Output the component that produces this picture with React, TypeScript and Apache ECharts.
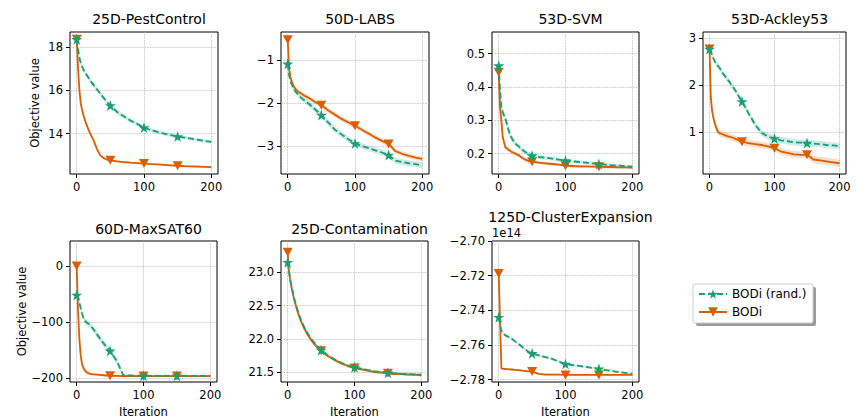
import React, { useEffect, useRef } from 'react';
import * as echarts from 'echarts';

// ---------------- data ----------------
const ITERS = [0, 2, 4, 6, 8, 10, 13, 16, 20, 25, 30, 35, 40, 45, 50, 60, 70, 80, 90, 100, 110, 120, 130, 140, 150, 160, 170, 180, 190, 200];
const MARK_ITERS = [0, 50, 100, 150];
const X_TICKS = [0, 100, 200];
const SERIES_NAMES = ['BODi (rand.)', 'BODi'];
const TITLES = ['25D-PestControl', '50D-LABS', '53D-SVM', '53D-Ackley53', '60D-MaxSAT60', '25D-Contamination', '125D-ClusterExpansion'];

const pestRand = [18.35, 17.9, 17.5, 17.25, 17.1, 16.95, 16.8, 16.65, 16.45, 16.25, 16.05, 15.85, 15.65, 15.45, 15.3, 15.0, 14.8, 14.6, 14.45, 14.28, 14.17, 14.08, 14.0, 13.93, 13.87, 13.82, 13.77, 13.72, 13.67, 13.62];
const pestRandErr = [0.05, 0.1, 0.12, 0.12, 0.12, 0.12, 0.12, 0.12, 0.12, 0.12, 0.12, 0.12, 0.12, 0.12, 0.12, 0.11, 0.1, 0.1, 0.1, 0.1, 0.09, 0.09, 0.09, 0.09, 0.08, 0.08, 0.08, 0.08, 0.08, 0.08];
const pestBodi = [18.35, 17.0, 16.0, 15.4, 15.1, 14.85, 14.55, 14.3, 14.0, 13.7, 13.3, 13.0, 12.88, 12.8, 12.77, 12.72, 12.69, 12.66, 12.64, 12.62, 12.6, 12.58, 12.56, 12.54, 12.52, 12.5, 12.49, 12.48, 12.47, 12.46];
const pestBodiErr = [0.05, 0.15, 0.15, 0.12, 0.1, 0.1, 0.1, 0.08, 0.08, 0.07, 0.06, 0.05, 0.05, 0.05, 0.05, 0.05, 0.05, 0.05, 0.05, 0.05, 0.05, 0.05, 0.05, 0.05, 0.05, 0.05, 0.05, 0.05, 0.05, 0.05];

const labsRand = [-1.09, -1.35, -1.5, -1.57, -1.63, -1.7, -1.76, -1.82, -1.88, -1.94, -2.0, -2.07, -2.14, -2.21, -2.28, -2.45, -2.62, -2.73, -2.84, -2.94, -3.0, -3.05, -3.1, -3.15, -3.21, -3.34, -3.37, -3.4, -3.42, -3.45];
const labsRandErr = [0.05, 0.06, 0.06, 0.06, 0.06, 0.06, 0.06, 0.06, 0.06, 0.06, 0.07, 0.07, 0.07, 0.07, 0.07, 0.07, 0.07, 0.07, 0.07, 0.07, 0.07, 0.07, 0.07, 0.07, 0.07, 0.07, 0.07, 0.07, 0.07, 0.07];
const labsBodi = [-0.53, -1.2, -1.4, -1.5, -1.58, -1.64, -1.7, -1.74, -1.78, -1.83, -1.87, -1.92, -1.97, -2.01, -2.05, -2.17, -2.27, -2.37, -2.45, -2.53, -2.62, -2.71, -2.8, -2.88, -2.95, -3.12, -3.18, -3.23, -3.27, -3.3];
const labsBodiErr = [0.04, 0.06, 0.06, 0.06, 0.06, 0.06, 0.06, 0.06, 0.06, 0.06, 0.06, 0.06, 0.06, 0.06, 0.06, 0.06, 0.06, 0.06, 0.06, 0.06, 0.06, 0.06, 0.06, 0.06, 0.06, 0.06, 0.06, 0.06, 0.06, 0.06];

const svmRand = [0.464, 0.39, 0.34, 0.325, 0.315, 0.305, 0.285, 0.262, 0.245, 0.23, 0.222, 0.212, 0.205, 0.198, 0.194, 0.19, 0.188, 0.185, 0.182, 0.179, 0.177, 0.175, 0.173, 0.171, 0.169, 0.167, 0.165, 0.164, 0.162, 0.161];
const svmRandErr = [0.07, 0.03, 0.02, 0.015, 0.013, 0.012, 0.012, 0.011, 0.01, 0.009, 0.008, 0.008, 0.007, 0.007, 0.007, 0.006, 0.006, 0.006, 0.006, 0.005, 0.005, 0.005, 0.005, 0.005, 0.005, 0.005, 0.005, 0.005, 0.005, 0.005];
const svmBodi = [0.444, 0.34, 0.3, 0.25, 0.235, 0.218, 0.215, 0.21, 0.205, 0.2, 0.195, 0.188, 0.182, 0.178, 0.176, 0.173, 0.171, 0.169, 0.167, 0.164, 0.163, 0.162, 0.162, 0.161, 0.161, 0.16, 0.16, 0.159, 0.159, 0.158];
const svmBodiErr = [0.1, 0.04, 0.02, 0.012, 0.01, 0.008, 0.008, 0.007, 0.007, 0.006, 0.006, 0.006, 0.006, 0.006, 0.005, 0.005, 0.005, 0.005, 0.005, 0.005, 0.005, 0.005, 0.005, 0.005, 0.005, 0.005, 0.005, 0.005, 0.005, 0.005];

const ackRand = [2.77, 2.7, 2.63, 2.57, 2.51, 2.46, 2.41, 2.36, 2.26, 2.17, 2.08, 1.98, 1.88, 1.76, 1.65, 1.4, 1.16, 0.98, 0.9, 0.86, 0.82, 0.8, 0.78, 0.77, 0.76, 0.75, 0.74, 0.72, 0.71, 0.7];
const ackRandErr = [0.05, 0.06, 0.06, 0.06, 0.06, 0.06, 0.06, 0.06, 0.06, 0.06, 0.06, 0.06, 0.07, 0.07, 0.07, 0.07, 0.07, 0.07, 0.07, 0.07, 0.07, 0.07, 0.07, 0.07, 0.07, 0.07, 0.07, 0.07, 0.07, 0.07];
const ackBodi = [2.77, 1.75, 1.45, 1.3, 1.19, 1.1, 1.0, 0.97, 0.95, 0.92, 0.9, 0.88, 0.85, 0.82, 0.79, 0.76, 0.74, 0.72, 0.69, 0.65, 0.58, 0.55, 0.52, 0.51, 0.51, 0.41, 0.39, 0.37, 0.35, 0.33];
const ackBodiErr = [0.05, 0.12, 0.1, 0.09, 0.08, 0.08, 0.07, 0.07, 0.07, 0.07, 0.07, 0.07, 0.07, 0.07, 0.07, 0.07, 0.07, 0.07, 0.07, 0.07, 0.07, 0.07, 0.07, 0.07, 0.07, 0.08, 0.08, 0.08, 0.08, 0.08];

const satRand = [-52, -60, -66, -75, -85, -93, -99, -102, -106, -113, -122, -130, -138, -146, -152, -170, -196, -196, -196.5, -196.5, -196.5, -196.5, -196.5, -196.5, -196.5, -196.5, -196.5, -196.5, -196.5, -196.5];
const satRandErr = [4, 5, 6, 6, 6, 6, 6, 6, 6, 6, 6, 6, 6, 6, 6, 6, 3, 2, 2, 2, 2, 2, 2, 2, 2, 2, 2, 2, 2, 2];
const satBodi = [0, -80, -130, -160, -176, -182, -188, -191, -193, -194, -194.5, -195, -195.5, -196, -196.5, -196.5, -197, -197, -197, -197, -197, -197, -197, -197, -197, -197, -197, -197, -197, -197];
const satBodiErr = [35, 20, 12, 8, 6, 5, 4, 3, 3, 2, 2, 2, 2, 2, 2, 2, 2, 2, 2, 2, 2, 2, 2, 2, 2, 2, 2, 2, 2, 2];

const contRand = [23.15, 23.0, 22.88, 22.78, 22.69, 22.6, 22.49, 22.39, 22.28, 22.17, 22.08, 22.0, 21.94, 21.88, 21.83, 21.75, 21.69, 21.64, 21.6, 21.57, 21.55, 21.53, 21.51, 21.5, 21.49, 21.48, 21.47, 21.47, 21.46, 21.46];
const contRandErr = [0.03, 0.03, 0.03, 0.03, 0.03, 0.03, 0.03, 0.03, 0.03, 0.03, 0.03, 0.03, 0.03, 0.03, 0.03, 0.02, 0.02, 0.02, 0.02, 0.02, 0.02, 0.02, 0.02, 0.02, 0.02, 0.02, 0.02, 0.02, 0.02, 0.02];
const contBodi = [23.3, 23.02, 22.87, 22.76, 22.67, 22.58, 22.47, 22.37, 22.26, 22.15, 22.06, 21.98, 21.92, 21.86, 21.82, 21.74, 21.68, 21.63, 21.59, 21.56, 21.54, 21.52, 21.5, 21.49, 21.48, 21.47, 21.47, 21.46, 21.46, 21.45];
const contBodiErr = [0.03, 0.03, 0.03, 0.03, 0.03, 0.03, 0.03, 0.03, 0.03, 0.03, 0.03, 0.03, 0.03, 0.03, 0.03, 0.02, 0.02, 0.02, 0.02, 0.02, 0.02, 0.02, 0.02, 0.02, 0.02, 0.02, 0.02, 0.02, 0.02, 0.02];

// ClusterExpansion values in units of 1e14
const ceRand = [-2.744, -2.748, -2.7516, -2.753, -2.7538, -2.7544, -2.755, -2.7555, -2.7565, -2.758, -2.7595, -2.761, -2.7625, -2.764, -2.7648, -2.766, -2.767, -2.768, -2.7695, -2.7709, -2.7715, -2.772, -2.7726, -2.7732, -2.7737, -2.7744, -2.775, -2.7756, -2.7761, -2.7766];
const ceRandErr = [0.001, 0.001, 0.001, 0.0008, 0.0008, 0.0008, 0.0008, 0.0008, 0.0008, 0.0008, 0.0008, 0.0008, 0.0008, 0.0008, 0.0008, 0.0008, 0.0008, 0.0008, 0.0008, 0.0008, 0.0007, 0.0007, 0.0007, 0.0007, 0.0007, 0.0007, 0.0007, 0.0007, 0.0007, 0.0007];
const ceBodi = [-2.7188, -2.745, -2.7734, -2.7736, -2.7737, -2.7738, -2.7739, -2.774, -2.7741, -2.7743, -2.7745, -2.7748, -2.775, -2.7752, -2.7753, -2.7766, -2.777, -2.7771, -2.7771, -2.7772, -2.7772, -2.7772, -2.7772, -2.7772, -2.7772, -2.7772, -2.7772, -2.7772, -2.7772, -2.7772];
const ceBodiErr = [0.017, 0.01, 0.001, 0.0006, 0.0005, 0.0005, 0.0005, 0.0005, 0.0005, 0.0005, 0.0005, 0.0005, 0.0005, 0.0005, 0.0005, 0.0005, 0.0005, 0.0005, 0.0005, 0.0005, 0.0005, 0.0005, 0.0005, 0.0005, 0.0005, 0.0005, 0.0005, 0.0005, 0.0005, 0.0005];

const Y_TICKS = [
  [14, 16, 18],
  [-3, -2, -1],
  [0.2, 0.3, 0.4, 0.5],
  [1, 2, 3],
  [-200, -100, 0],
  [21.5, 22.0, 22.5, 23.0],
  [-2.78, -2.76, -2.74, -2.72, -2.70],
];
const Y_RANGES = [
  [12.14, 18.69],
  [-3.65, -0.35],
  [0.139, 0.565],
  [0.1, 3.135],
  [-207.6, 44.7],
  [21.35, 23.47],
  [-2.7813, -2.7],
];
const Y_DECIMALS = [0, 0, 1, 0, 0, 1, 2];
const X_RANGE = [-10, 210];

const PANEL_DATA = [
  [pestRand, pestRandErr, pestBodi, pestBodiErr],
  [labsRand, labsRandErr, labsBodi, labsBodiErr],
  [svmRand, svmRandErr, svmBodi, svmBodiErr],
  [ackRand, ackRandErr, ackBodi, ackBodiErr],
  [satRand, satRandErr, satBodi, satBodiErr],
  [contRand, contRandErr, contBodi, contBodiErr],
  [ceRand, ceRandErr, ceBodi, ceBodiErr],
];

// ---------------- layout & style ----------------
const GRID_BOXES = [
  { left: 70, top: 32, width: 148, height: 142 },
  { left: 281, top: 32, width: 148, height: 142 },
  { left: 492, top: 32, width: 147, height: 142 },
  { left: 703, top: 32, width: 143, height: 142 },
  { left: 70, top: 241, width: 147, height: 143 },
  { left: 281, top: 241, width: 147, height: 143 },
  { left: 492, top: 241, width: 147, height: 143 },
];
const TITLE_TOPS = [7, 7, 7, 7, 217, 217, 205];
const COLORS = ['#1b9e77', '#d95f02'];
const BAND_COLORS = ['rgba(27,158,119,0.2)', 'rgba(217,95,2,0.2)'];
const STAR = 'path://M50,0 L61.2,34.5 L97.6,34.5 L68.2,55.9 L79.4,90.5 L50,69.1 L20.6,90.5 L31.8,55.9 L2.4,34.5 L38.8,34.5 Z';
const TRI_DOWN = 'path://M0,0 L100,0 L50,86.6 Z';
const SYMBOLS = [STAR, TRI_DOWN];
const SYMBOL_SIZES = [[11, 11], [10, 9]];
const FONT = 'DejaVu Sans';
const TICK_FS = 11.5;

const fmt = (d: number) => (v: number) => v.toFixed(d).replace('-', '\u2212');

function buildOption() {
  const grid: any[] = [];
  const xAxis: any[] = [];
  const yAxis: any[] = [];
  const title: any[] = [];
  const series: any[] = [];

  GRID_BOXES.forEach((b, i) => {
    grid.push({ ...b, show: true, borderColor: '#000', borderWidth: 1, backgroundColor: 'transparent' });
    title.push({
      text: TITLES[i],
      left: b.left + b.width / 2,
      top: TITLE_TOPS[i],
      textAlign: 'center',
      textStyle: { fontSize: 14, fontWeight: 'normal', color: '#000', fontFamily: FONT },
    });
    const bottomRow = i >= 4;
    xAxis.push({
      type: 'value',
      gridIndex: i,
      min: X_RANGE[0],
      max: X_RANGE[1],
      axisLine: { show: false, onZero: false },
      axisTick: { show: true, customValues: X_TICKS, length: 4, lineStyle: { color: '#000', width: 1 } },
      axisLabel: { customValues: X_TICKS, fontSize: TICK_FS, color: '#000', fontFamily: FONT, margin: 7 },
      splitLine: { show: true, lineStyle: { type: 'dotted', color: '#b0b0b0', width: 0.8 } },
      name: bottomRow ? 'Iteration' : '',
      nameLocation: 'middle',
      nameGap: 24,
      nameTextStyle: { fontSize: TICK_FS, color: '#000', fontFamily: FONT },
    });
    const yt = Y_TICKS[i];
    const yName = i === 0 || i === 4 ? 'Objective value' : i === 6 ? '1e14' : '';
    yAxis.push({
      type: 'value',
      gridIndex: i,
      min: Y_RANGES[i][0],
      max: Y_RANGES[i][1],
      axisLine: { show: false, onZero: false },
      axisTick: { show: true, customValues: yt, length: 4, lineStyle: { color: '#000', width: 1 } },
      axisLabel: { customValues: yt, fontSize: TICK_FS, color: '#000', fontFamily: FONT, margin: 7, formatter: fmt(Y_DECIMALS[i]) },
      splitLine: { show: true, lineStyle: { type: 'dotted', color: '#b0b0b0', width: 0.8 } },
      name: yName,
      nameLocation: i === 6 ? 'end' : 'middle',
      nameGap: i === 6 ? 2 : 29,
      nameTextStyle: i === 6
        ? { fontSize: TICK_FS, color: '#000', fontFamily: FONT, align: 'left', verticalAlign: 'bottom' }
        : { fontSize: TICK_FS, color: '#000', fontFamily: FONT },
    });

    const pd = PANEL_DATA[i];
    // shaded bands (mean ± error) drawn as one polygon per method through the axes' scales
    [1, 0].forEach((m) => {
      const vals = pd[m * 2];
      const errs = pd[m * 2 + 1];
      const bandData = ITERS.map((x, k) => [x, vals[k] - errs[k], vals[k] + errs[k]]);
      series.push({
        type: 'custom',
        name: `band-${i}-${m}`,
        xAxisIndex: i,
        yAxisIndex: i,
        silent: true,
        clip: true,
        encode: { x: 0, y: [1, 2] },
        data: bandData,
        renderItem: (params: any, api: any) => {
          if (params.dataIndex !== 0) return null;
          const upper = bandData.map((d) => api.coord([d[0], d[2]]));
          const lower = bandData.map((d) => api.coord([d[0], d[1]])).reverse();
          return {
            type: 'polygon',
            shape: { points: upper.concat(lower) },
            style: { fill: BAND_COLORS[m], stroke: 'none' },
          };
        },
        z: 1,
      });
    });
    [1, 0].forEach((m) => {
      const vals = pd[m * 2];
      series.push({
        type: 'line',
        name: SERIES_NAMES[m],
        xAxisIndex: i,
        yAxisIndex: i,
        symbol: SYMBOLS[m],
        symbolSize: SYMBOL_SIZES[m],
        showSymbol: true,
        showAllSymbol: true,
        itemStyle: { color: COLORS[m], borderWidth: 0 },
        lineStyle: { color: COLORS[m], width: 1.8, type: m === 0 ? [6, 3] : 'solid' },
        data: ITERS.map((x, k) =>
          MARK_ITERS.includes(x) ? { value: [x, vals[k]] } : { value: [x, vals[k]], symbol: 'none' }
        ),
        z: m === 0 ? 4 : 3,
      });
    });
  });

  return {
    animation: false,
    backgroundColor: '#fff',
    textStyle: { fontFamily: FONT },
    title,
    grid,
    xAxis,
    yAxis,
    series,
    legend: {
      data: SERIES_NAMES,
      orient: 'vertical',
      left: 693,
      top: 285,
      padding: [3, 8, 3, 5],
      itemWidth: 28,
      itemHeight: 12,
      itemGap: 6,
      textStyle: { fontSize: 12, color: '#000', fontFamily: FONT },
      selectedMode: false,
      z: 10,
    },
    graphic: [
      { type: 'rect', shape: { x: 696, y: 287, width: 120, height: 39, r: 2 }, style: { fill: '#9a9a9a' }, z: 0, silent: true },
      { type: 'rect', shape: { x: 693, y: 284, width: 120, height: 39, r: 2 }, style: { fill: '#fff', stroke: '#cccccc', lineWidth: 1 }, z: 1, silent: true },
    ],
  };
}

export default function App() {
  const ref = useRef<HTMLDivElement>(null);
  useEffect(() => {
    if (!ref.current) return;
    const chart = echarts.init(ref.current, null, { renderer: 'svg' });
    chart.setOption(buildOption() as any);
    return () => chart.dispose();
  }, []);
  return <div ref={ref} style={{ position: 'fixed', left: 0, top: 0, width: 857, height: 419 }} />;
}
